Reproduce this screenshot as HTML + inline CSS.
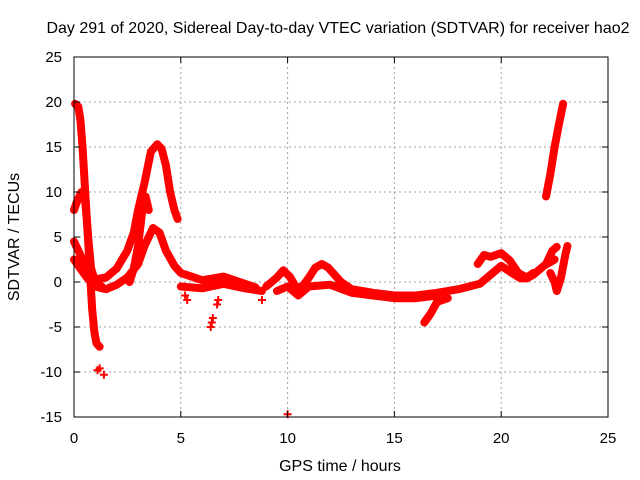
<!DOCTYPE html>
<html><head><meta charset="utf-8"><style>
body{margin:0;background:#fff}
svg{display:block;font-family:"Liberation Sans",sans-serif}
</style></head><body>
<svg id="chart" width="640" height="480">
<rect x="0" y="0" width="640" height="480" fill="#fff"/>
<g id="grid"></g>
<g id="series"></g>
<rect x="74" y="57" width="534" height="360" fill="none" stroke="#000" stroke-width="1"/>
<g id="ticks"></g>
<text x="338" y="33" text-anchor="middle" font-size="16">Day 291 of 2020, Sidereal Day-to-day VTEC variation (SDTVAR) for receiver hao2</text>
<text x="340" y="471" text-anchor="middle" font-size="16">GPS time / hours</text>
<text transform="translate(19,237) rotate(-90)" text-anchor="middle" font-size="16">SDTVAR / TECUs</text>
</svg>
<script>
const xTicks=[0,5,10,15,20,25];
const yTicks=[-15,-10,-5,0,5,10,15,20,25];
const trackA=[[0.05,19.8],[0.2,19.5],[0.3,18],[0.4,15],[0.45,13],[0.55,9],[0.65,5],[0.75,1],[0.85,-3],[0.95,-5.5],[1.05,-6.8],[1.2,-7.2]];
const trackB=[[0,8],[0.15,9],[0.35,10],[0.5,9.5],[0.6,7],[0.7,4],[0.8,1.5],[1.0,0],[1.3,-0.5]];
const trackC=[[0,4.5],[0.3,3],[0.6,1.2],[1.0,0.3],[1.5,0.5],[2.0,1.5],[2.5,3.5],[2.8,5.5],[3.0,8],[3.3,11],[3.6,14.5],[3.9,15.3],[4.1,14.8],[4.3,13],[4.5,10],[4.7,8],[4.85,7]];
const trackC2=[[2.6,0],[2.8,1.5],[3.0,4],[3.2,8],[3.35,9.5],[3.5,8]];
const trackD=[[0,2.5],[0.3,1.5],[0.6,0.5],[1,-0.5],[1.5,-0.8],[2,-0.3],[2.5,0.5],[3,2],[3.3,4],[3.7,6],[4,5.5],[4.3,3.5],[4.7,1.8],[5,1],[5.5,0.6],[6,0.2],[6.5,0.4],[7,0.6],[7.5,0.2],[8,-0.2],[8.5,-0.6]];
const trackE=[[5,-0.5],[6,-0.7],[7,-0.2],[8,-0.7],[8.8,-1]];
const trackF=[[9,-0.5],[9.5,0.5],[9.8,1.3],[10.1,0.6],[10.4,-0.6],[10.7,-0.5],[11,0.5],[11.3,1.6],[11.6,2],[11.9,1.6],[12.2,0.8],[12.5,0],[13,-0.8],[14,-1.2],[15,-1.5],[16,-1.5],[17,-1.2],[18,-0.8],[19,-0.2],[19.5,0.8],[20,1.8],[20.5,1],[20.9,0.4],[21.2,0.4],[21.5,0.8],[22,1.8],[22.5,2.5]];
const trackG=[[9.5,-1],[10,-0.5],[10.5,-1.5],[11,-0.5],[12,-0.3],[13,-1.2],[14,-1.5],[15,-1.8],[16,-1.8],[17,-1.5]];
const trackH=[[18.9,2],[19.2,3],[19.5,2.8],[20,3.2],[20.4,2.4],[20.8,1],[21.2,0.5],[21.5,1]];
const trackI=[[22.1,2],[22.4,3.5],[22.6,3.9]];
const trackJ=[[22.3,1],[22.5,0],[22.6,-1],[22.8,0.5],[23,3],[23.1,4]];
const trackK=[[16.4,-4.5],[16.7,-3.5],[17,-2.2],[17.5,-1.8]];
const trackL=[[22.1,9.5],[22.3,12],[22.5,15],[22.7,17.5],[22.9,19.8]];
const tracks=[trackA,trackB,trackC,trackC2,trackD,trackE,trackF,trackG,trackH,trackI,trackJ,trackK,trackL];
const isolated=[[1.1,-9.8],[1.2,-9.6],[1.4,-10.3],[6.4,-5],[6.45,-4.5],[6.5,-4],[6.7,-2.5],[6.75,-2],[10,-14.7],[8.8,-2],[5.3,-2],[5.2,-1.5]];
const NS='http://www.w3.org/2000/svg';
const sx=x=>74+x*21.36, sy=y=>282-y*9;
const grid=document.getElementById('grid'),ticks=document.getElementById('ticks'),ser=document.getElementById('series');
function mk(tag,attrs,parent){const e=document.createElementNS(NS,tag);for(const k in attrs)e.setAttribute(k,attrs[k]);parent.appendChild(e);return e;}
xTicks.forEach(t=>{const x=sx(t);
 if(t>0&&t<25){const g=mk('line',{x1:x,x2:x,y1:57,y2:417,stroke:'#a0a0a0','stroke-dasharray':'2,3'},grid);
 
 }
 const tl=mk('text',{x:x,y:443,'text-anchor':'middle','font-size':15},ticks);tl.textContent=t;
 
 
 mk('line',{x1:x,x2:x,y1:417,y2:411,stroke:'#000'},ticks);mk('line',{x1:x,x2:x,y1:57,y2:63,stroke:'#000'},ticks);});
yTicks.forEach(t=>{const y=sy(t);
 if(t>-15&&t<25){const g=mk('line',{x1:74,x2:608,y1:y,y2:y,stroke:'#a0a0a0','stroke-dasharray':'2,3'},grid);
 
 }
 const tl=mk('text',{x:62,y:y+5,'text-anchor':'end','font-size':15},ticks);tl.textContent=t;
 
 
 mk('line',{x1:74,x2:80,y1:y,y2:y,stroke:'#000'},ticks);mk('line',{x1:608,x2:602,y1:y,y2:y,stroke:'#000'},ticks);});
tracks.forEach(tr=>{
 const pl=mk('polyline',{points:tr.map(p=>sx(p[0])+','+sy(p[1])).join(' '),fill:'none',stroke:'#ff0000','stroke-width':8,'stroke-linejoin':'round','stroke-linecap':'round'},ser);
 
 
});
isolated.forEach(p=>{const x=sx(p[0]),y=sy(p[1]);
 const m=mk('path',{d:`M${x-4},${y}H${x+4}M${x},${y-4}V${y+4}`,stroke:'#ff0000','stroke-width':2},ser);
 
 });
</script>
</body></html>
